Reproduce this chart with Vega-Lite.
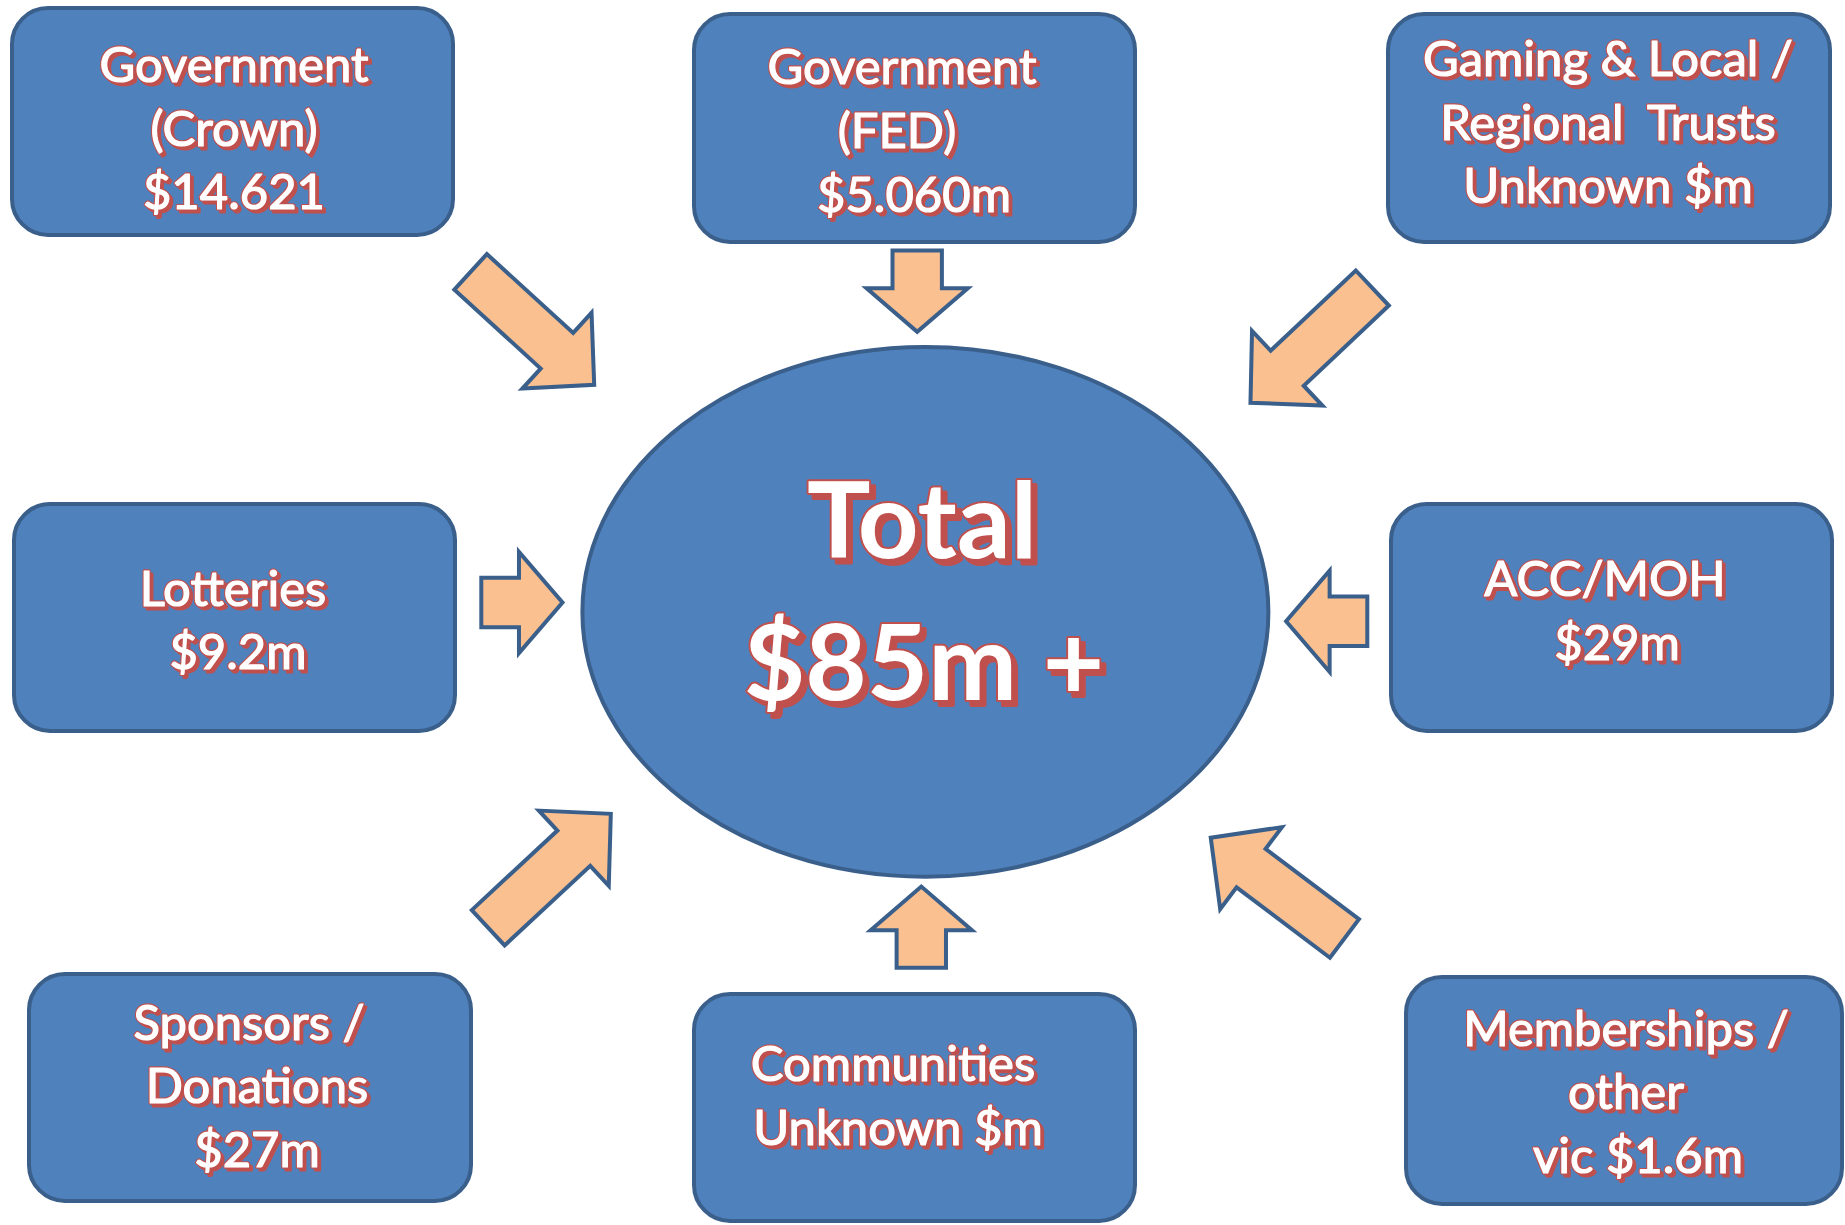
{
  "$schema": "https://vega.github.io/schema/vega-lite/v6.json",
  "width": 1845,
  "height": 1225,
  "autosize": {"type": "none"},
  "padding": 0,
  "background": "white",
  "config": {"view": {"stroke": null}},
  "datasets": {
    "boxes": [
      {"name": "Government (Crown)", "x1": 12, "x2": 453, "y1": 8, "y2": 235},
      {"name": "Government (FED)", "x1": 694, "x2": 1135, "y1": 14, "y2": 242},
      {"name": "Gaming & Local / Regional Trusts", "x1": 1388, "x2": 1830, "y1": 14, "y2": 242},
      {"name": "Lotteries", "x1": 14, "x2": 455, "y1": 504, "y2": 731},
      {"name": "ACC/MOH", "x1": 1391, "x2": 1832, "y1": 504, "y2": 731},
      {"name": "Sponsors / Donations", "x1": 29, "x2": 471, "y1": 974, "y2": 1201},
      {"name": "Communities", "x1": 694, "x2": 1135, "y1": 994, "y2": 1221},
      {"name": "Memberships / other", "x1": 1406, "x2": 1842, "y1": 977, "y2": 1204}
    ],
    "centre": [{"name": "Total", "x": 925.4, "y": 611.9}],
    "arrows": [
      {"from": "Government (Crown)", "kind": "long", "x": 532.4, "y": 328.3, "angle": 42.4},
      {"from": "Gaming & Local / Regional Trusts", "kind": "long", "x": 1311.4, "y": 345.4, "angle": 136.7},
      {"from": "Sponsors / Donations", "kind": "long", "x": 549.5, "y": 870.8, "angle": -42.9},
      {"from": "Memberships / other", "kind": "long", "x": 1277.6, "y": 888.1, "angle": 217},
      {"from": "Government (FED)", "kind": "short", "x": 917.2, "y": 291.2, "angle": 90},
      {"from": "Lotteries", "kind": "short", "x": 521.9, "y": 602.5, "angle": 0},
      {"from": "ACC/MOH", "kind": "short", "x": 1326.7, "y": 621.3, "angle": 180},
      {"from": "Communities", "kind": "short", "x": 921.3, "y": 927.2, "angle": -90}
    ],
    "labels": [
      {"role": "box", "t": "Government", "x": 234, "y": 67},
      {"role": "box", "t": "(Crown)", "x": 234, "y": 131},
      {"role": "box", "t": "$14.621", "x": 234, "y": 194},
      {"role": "box", "t": "Government", "x": 902, "y": 69},
      {"role": "box", "t": "(FED)", "x": 897, "y": 133},
      {"role": "box", "t": "$5.060m", "x": 914, "y": 197},
      {"role": "box", "t": "Gaming & Local /", "x": 1608, "y": 61},
      {"role": "box", "t": "Regional\u00a0 Trusts", "x": 1608, "y": 125},
      {"role": "box", "t": "Unknown $m", "x": 1608, "y": 188},
      {"role": "box", "t": "Lotteries", "x": 233, "y": 591},
      {"role": "box", "t": "$9.2m", "x": 238, "y": 654},
      {"role": "box", "t": "ACC/MOH", "x": 1605, "y": 581},
      {"role": "box", "t": "$29m", "x": 1617, "y": 645},
      {"role": "box", "t": "Sponsors /", "x": 249, "y": 1025},
      {"role": "box", "t": "Donations", "x": 257, "y": 1088},
      {"role": "box", "t": "$27m", "x": 257, "y": 1152},
      {"role": "box", "t": "Communities", "x": 893, "y": 1066},
      {"role": "box", "t": "Unknown $m", "x": 898, "y": 1130},
      {"role": "box", "t": "Memberships /", "x": 1626, "y": 1031},
      {"role": "box", "t": "other", "x": 1626, "y": 1094},
      {"role": "box", "t": "vic $1.6m", "x": 1638, "y": 1158},
      {"role": "total", "t": "Total", "x": 922, "y": 526},
      {"role": "total", "t": "$85m +", "x": 924, "y": 668}
    ]
  },
  "layer": [
    {
      "data": {"name": "boxes"},
      "mark": {"type": "rect", "cornerRadius": 36, "fill": "#4F81BD", "stroke": "#3A5F8B", "strokeWidth": 4},
      "encoding": {
        "x": {"field": "x1", "type": "quantitative", "scale": {"domain": [0, 1845], "nice": false, "zero": false}, "axis": null},
        "x2": {"field": "x2"},
        "y": {"field": "y1", "type": "quantitative", "scale": {"domain": [0, 1225], "nice": false, "zero": false, "reverse": true}, "axis": null},
        "y2": {"field": "y2"}
      }
    },
    {
      "data": {"name": "centre"},
      "mark": {"type": "point", "filled": true, "opacity": 1, "fill": "#4F81BD", "stroke": "#3A5F8B", "strokeWidth": 4, "size": 470596,
        "shape": "M1,0C1,0.4264 0.5523,0.772 0,0.772C-0.5523,0.772 -1,0.4264 -1,0C-1,-0.4264 -0.5523,-0.772 0,-0.772C0.5523,-0.772 1,-0.4264 1,0Z"},
      "encoding": {
        "x": {"field": "x", "type": "quantitative"},
        "y": {"field": "y", "type": "quantitative"}
      }
    },
    {
      "data": {"name": "arrows"},
      "transform": [{"filter": "datum.kind === 'long'"}],
      "mark": {"type": "point", "filled": true, "opacity": 1, "fill": "#FAC090", "stroke": "#3A5F8B", "strokeWidth": 4, "size": 28023,
        "shape": "M-1,-0.288L0.397,-0.288L0.397,-0.613L1,0L0.397,0.613L0.397,0.288L-1,0.288Z"},
      "encoding": {
        "x": {"field": "x", "type": "quantitative"},
        "y": {"field": "y", "type": "quantitative"},
        "angle": {"field": "angle", "type": "quantitative", "scale": null}
      }
    },
    {
      "data": {"name": "arrows"},
      "transform": [{"filter": "datum.kind === 'short'"}],
      "mark": {"type": "point", "filled": true, "opacity": 1, "fill": "#FAC090", "stroke": "#3A5F8B", "strokeWidth": 4, "size": 28023,
        "shape": "M-0.485,-0.295L-0.035,-0.295L-0.035,-0.605L0.485,0L-0.035,0.605L-0.035,0.295L-0.485,0.295Z"},
      "encoding": {
        "x": {"field": "x", "type": "quantitative"},
        "y": {"field": "y", "type": "quantitative"},
        "angle": {"field": "angle", "type": "quantitative", "scale": null}
      }
    },
    {
      "data": {"name": "labels"},
      "transform": [{"filter": "datum.role === 'box'"}],
      "mark": {"type": "text", "font": "Lato", "fontSize": 49, "align": "center", "baseline": "middle", "fill": "#C0504D", "stroke": "#C0504D", "strokeWidth": 3, "strokeJoin": "round", "dx": 3, "dy": 3},
      "encoding": {
        "x": {"field": "x", "type": "quantitative"},
        "y": {"field": "y", "type": "quantitative"},
        "text": {"field": "t"}
      }
    },
    {
      "data": {"name": "labels"},
      "transform": [{"filter": "datum.role === 'box'"}],
      "mark": {"type": "text", "font": "Lato", "fontSize": 49, "align": "center", "baseline": "middle", "fill": "#C0504D", "stroke": "#C0504D", "strokeWidth": 3.5, "strokeJoin": "round"},
      "encoding": {
        "x": {"field": "x", "type": "quantitative"},
        "y": {"field": "y", "type": "quantitative"},
        "text": {"field": "t"}
      }
    },
    {
      "data": {"name": "labels"},
      "transform": [{"filter": "datum.role === 'box'"}],
      "mark": {"type": "text", "font": "Lato", "fontSize": 49, "align": "center", "baseline": "middle", "fill": "#FFFFFF", "stroke": "#FFFFFF", "strokeWidth": 1.2, "strokeJoin": "round"},
      "encoding": {
        "x": {"field": "x", "type": "quantitative"},
        "y": {"field": "y", "type": "quantitative"},
        "text": {"field": "t"}
      }
    },
    {
      "data": {"name": "labels"},
      "transform": [{"filter": "datum.role === 'total'"}],
      "mark": {"type": "text", "font": "Lato", "fontSize": 106, "fontWeight": "bold", "align": "center", "baseline": "middle", "fill": "#C0504D", "stroke": "#C0504D", "strokeWidth": 4, "strokeJoin": "round", "dx": 5, "dy": 5},
      "encoding": {
        "x": {"field": "x", "type": "quantitative"},
        "y": {"field": "y", "type": "quantitative"},
        "text": {"field": "t"}
      }
    },
    {
      "data": {"name": "labels"},
      "transform": [{"filter": "datum.role === 'total'"}],
      "mark": {"type": "text", "font": "Lato", "fontSize": 106, "fontWeight": "bold", "align": "center", "baseline": "middle", "fill": "#C0504D", "stroke": "#C0504D", "strokeWidth": 4, "strokeJoin": "round"},
      "encoding": {
        "x": {"field": "x", "type": "quantitative"},
        "y": {"field": "y", "type": "quantitative"},
        "text": {"field": "t"}
      }
    },
    {
      "data": {"name": "labels"},
      "transform": [{"filter": "datum.role === 'total'"}],
      "mark": {"type": "text", "font": "Lato", "fontSize": 106, "fontWeight": "bold", "align": "center", "baseline": "middle", "fill": "#FFFFFF"},
      "encoding": {
        "x": {"field": "x", "type": "quantitative"},
        "y": {"field": "y", "type": "quantitative"},
        "text": {"field": "t"}
      }
    }
  ]
}
